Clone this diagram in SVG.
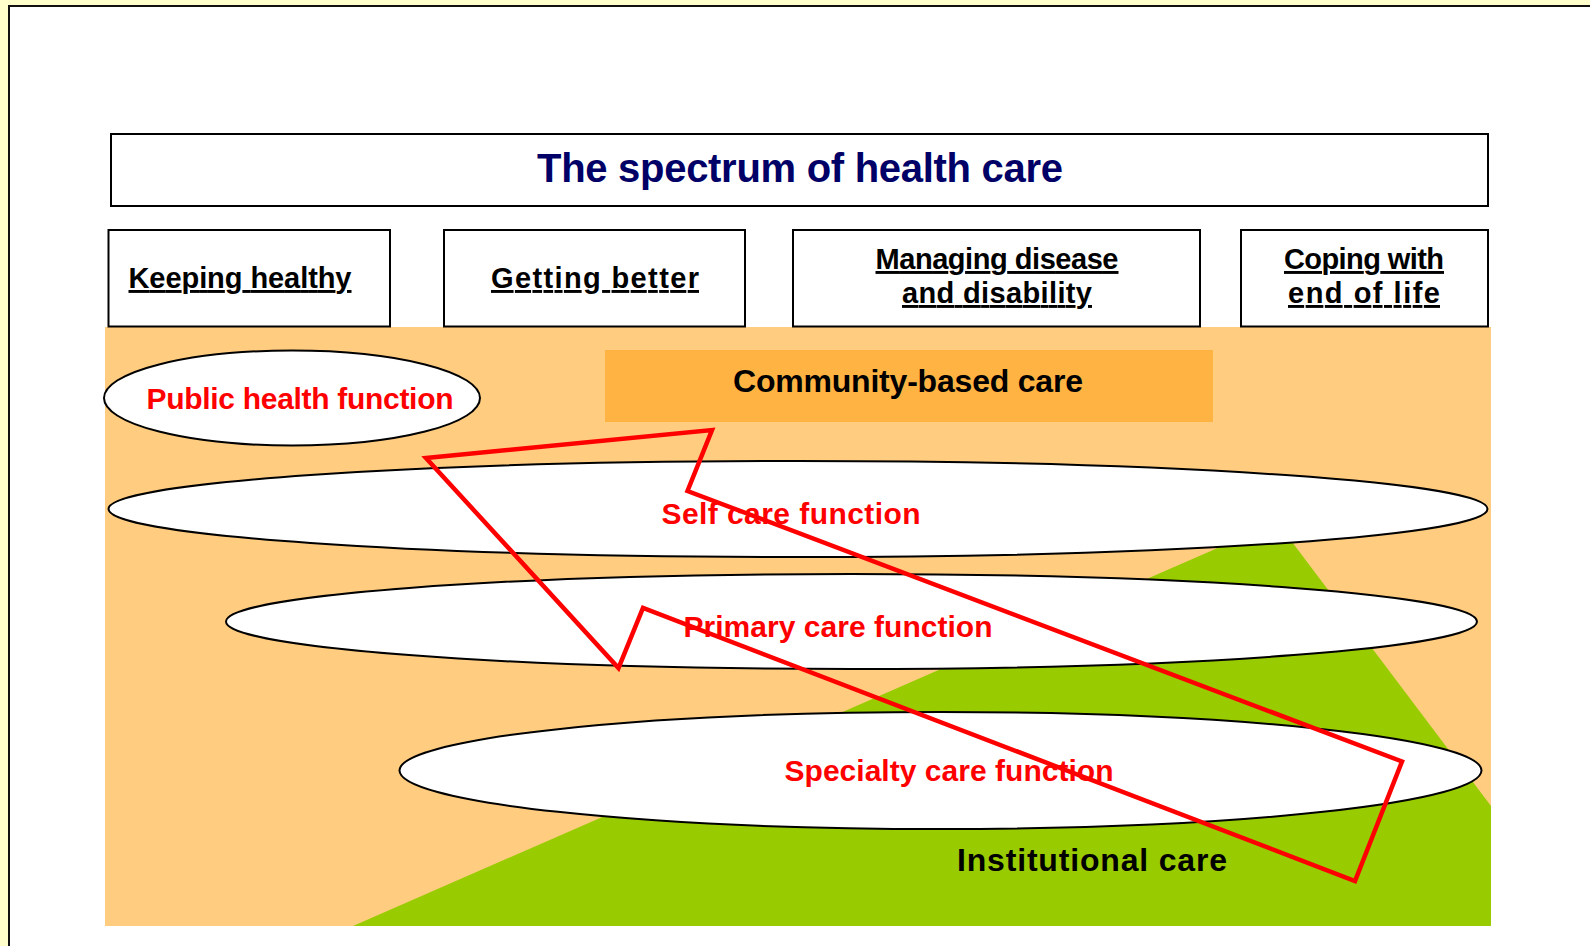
<svg xmlns="http://www.w3.org/2000/svg" width="1590" height="946" viewBox="0 0 1590 946">
<defs>
<style>
.box{fill:#fff;stroke:#000;stroke-width:2}
.ell{fill:#fff;stroke:#000;stroke-width:2}
.hdr{font-family:"Liberation Sans",Arial,sans-serif;font-weight:bold;font-size:29px;fill:#000;text-decoration:underline;text-anchor:middle}
.fn{font-family:"Liberation Sans",Arial,sans-serif;font-weight:bold;font-size:30px;fill:#ff0000;text-anchor:middle}
.lbl{font-family:"Liberation Sans",Arial,sans-serif;font-weight:bold;font-size:32px;fill:#000;text-anchor:middle}
.title{font-family:"Liberation Sans",Arial,sans-serif;font-weight:bold;font-size:40px;fill:#000066;text-anchor:middle}
</style>
</defs>
<rect x="0" y="0" width="1590" height="946" fill="#ffffcc"/>
<rect x="9" y="6" width="1600" height="1000" fill="#fff" stroke="#111" stroke-width="2"/>

<g id="background">
<rect x="105" y="327" width="1386" height="599" fill="#ffcc80"/>
<polygon points="353,926 1277,522 1491,806 1491,926" fill="#99cc00"/>
</g>

<g id="title">
<rect class="box" x="111" y="134" width="1377" height="72"/>
<text class="title" x="800" y="182" textLength="526">The spectrum of health care</text>
</g>

<g id="col-keeping-healthy">
<rect class="box" x="108.5" y="230" width="281.5" height="96.5"/>
<text class="hdr" x="240" y="288" textLength="223">Keeping healthy</text>
</g>
<g id="col-getting-better">
<rect class="box" x="444" y="230" width="301" height="96.5"/>
<text class="hdr" x="595" y="288" textLength="208">Getting better</text>
</g>
<g id="col-managing">
<rect class="box" x="793" y="230" width="407" height="96.5"/>
<text class="hdr" x="997" y="269" textLength="243">Managing disease</text>
<text class="hdr" x="997" y="303" textLength="190">and disability</text>
</g>
<g id="col-coping">
<rect class="box" x="1241" y="230" width="247" height="96.5"/>
<text class="hdr" x="1364" y="269" textLength="160">Coping with</text>
<text class="hdr" x="1364" y="303" textLength="152">end of life</text>
</g>

<g id="community-based-care">
<rect x="605" y="350" width="608" height="72" fill="#ffb342"/>
<text class="lbl" x="908" y="392" textLength="350">Community-based care</text>
</g>

<g id="public-health">
<ellipse class="ell" cx="292" cy="398" rx="188" ry="47.5"/>
<text class="fn" x="300" y="409" textLength="307">Public health function</text>
</g>
<g id="self-care">
<ellipse class="ell" cx="798" cy="509" rx="689.5" ry="48"/>
<text class="fn" x="791" y="524" textLength="259">Self care function</text>
</g>
<g id="primary-care">
<ellipse class="ell" cx="851.5" cy="621.5" rx="625.5" ry="47.5"/>
<text class="fn" x="838" y="637" textLength="309">Primary care function</text>
</g>
<g id="specialty-care">
<ellipse class="ell" cx="940.5" cy="770.5" rx="541" ry="58.5"/>
<text class="fn" x="949" y="781" textLength="329">Specialty care function</text>
</g>
<g id="institutional-care">
<text class="lbl" x="1092" y="871" textLength="270">Institutional care</text>
</g>

<g id="connectors">
<polygon points="426,458 712,430 687.5,491 1402,761.5 1355,881 643,608 618.5,668" fill="none" stroke="#ff0000" stroke-width="4.5" stroke-linejoin="miter"/>
</g>
</svg>
